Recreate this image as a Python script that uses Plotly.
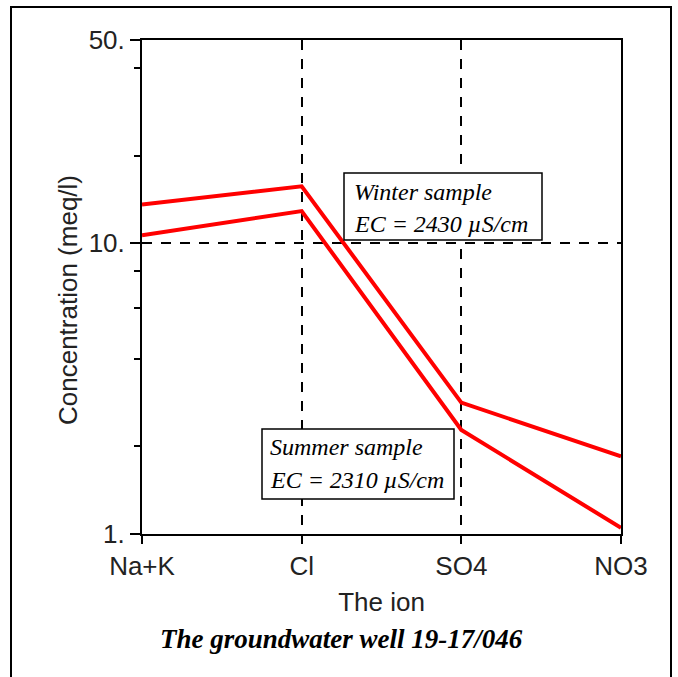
import plotly.graph_objects as go

# Ion categories on the x axis
ions = ["Na+K", "Cl", "SO4", "NO3"]

# Concentrations in meq/l for the two sampling campaigns
winter_meq = [13.6, 15.7, 2.83, 1.85]
summer_meq = [10.65, 12.9, 2.28, 1.05]

# Log axis ticks
y_major_vals = [1, 10, 50]
y_major_text = ["1.", "10.", "50."]
y_minor_vals = [2, 4, 6, 8, 20, 40]

W, H = 678, 677
L, R, T, B = 142, 57, 40, 143
PW, PH = W - L - R, H - T - B


def px_x(p):
    return (p - L) / PW


def px_y(p):
    return (H - B - p) / PH


axis_font = dict(family="Liberation Sans, Arial, sans-serif", size=26, color="#222222")
box_font = dict(family="Liberation Serif, Times New Roman, serif", size=24, color="black")

fig = go.Figure()
fig.add_trace(go.Scatter(x=ions, y=winter_meq, mode="lines", name="Winter",
                         line=dict(color="#ff0000", width=4), showlegend=False))
fig.add_trace(go.Scatter(x=ions, y=summer_meq, mode="lines", name="Summer",
                         line=dict(color="#ff0000", width=4), showlegend=False))

fig.update_layout(
    width=W, height=H,
    margin=dict(l=L, r=R, t=T, b=B),
    paper_bgcolor="white", plot_bgcolor="white",
    xaxis=dict(
        type="category", categoryorder="array", categoryarray=ions,
        range=[0, 3], showline=True, mirror=True, linecolor="black", linewidth=2,
        ticks="outside", ticklen=8, tickwidth=1.5, tickcolor="black",
        tickfont=axis_font,
        showgrid=True, gridcolor="black", gridwidth=1.5, griddash="10px,9px",
        zeroline=False,
        title=dict(text="The ion", font=axis_font, standoff=13),
    ),
    yaxis=dict(
        type="log", range=[0, 1.69897],
        tickmode="array", tickvals=y_major_vals, ticktext=y_major_text,
        showline=True, mirror=True, linecolor="black", linewidth=2,
        ticks="outside", ticklen=10, tickwidth=1.5, tickcolor="black",
        tickfont=axis_font,
        showgrid=True, gridcolor="black", gridwidth=1.5, griddash="10px,9px",
        zeroline=False,
        minor=dict(tickmode="array", tickvals=y_minor_vals, ticks="outside",
                   ticklen=6, tickwidth=1.5, tickcolor="black", showgrid=False),
    ),
)

shapes = []
# Outer frame around the whole figure
shapes.append(dict(type="rect", xref="paper", yref="paper",
                   x0=px_x(11), x1=px_x(671), y0=px_y(682), y1=px_y(7),
                   line=dict(color="black", width=2), fillcolor="rgba(0,0,0,0)",
                   layer="above"))
# Label boxes with white fill so the grid does not show through
for x0, x1, y0, y1 in [(344, 542, 173, 240), (262, 454, 429, 499)]:
    shapes.append(dict(type="rect", xref="paper", yref="paper",
                       x0=px_x(x0), x1=px_x(x1), y0=px_y(y1), y1=px_y(y0),
                       line=dict(color="black", width=1.5), fillcolor="white",
                       layer="above"))
fig.update_layout(shapes=shapes)

annotations = [
    dict(text="<i>Winter sample</i>", x=px_x(352), y=px_y(192)),
    dict(text="<i>EC = 2430 µS/cm</i>", x=px_x(352), y=px_y(224)),
    dict(text="<i>Summer sample</i>", x=px_x(268), y=px_y(447)),
    dict(text="<i>EC = 2310 µS/cm</i>", x=px_x(268), y=px_y(480)),
]
for a in annotations:
    fig.add_annotation(xref="paper", yref="paper", xanchor="left", yanchor="middle",
                       showarrow=False, font=box_font, **a)

fig.add_annotation(text="Concentration (meq/l)", xref="paper", yref="paper",
                   x=px_x(68), y=px_y(300), textangle=-90, showarrow=False,
                   xanchor="center", yanchor="middle", font=axis_font)

fig.add_annotation(text="<b><i>The groundwater well 19-17/046</i></b>",
                   xref="paper", yref="paper", x=px_x(341), y=px_y(639),
                   xanchor="center", yanchor="middle", showarrow=False,
                   font=dict(family="Liberation Serif, Times New Roman, serif",
                             size=27, color="black"))

fig.write_html("out.html")
